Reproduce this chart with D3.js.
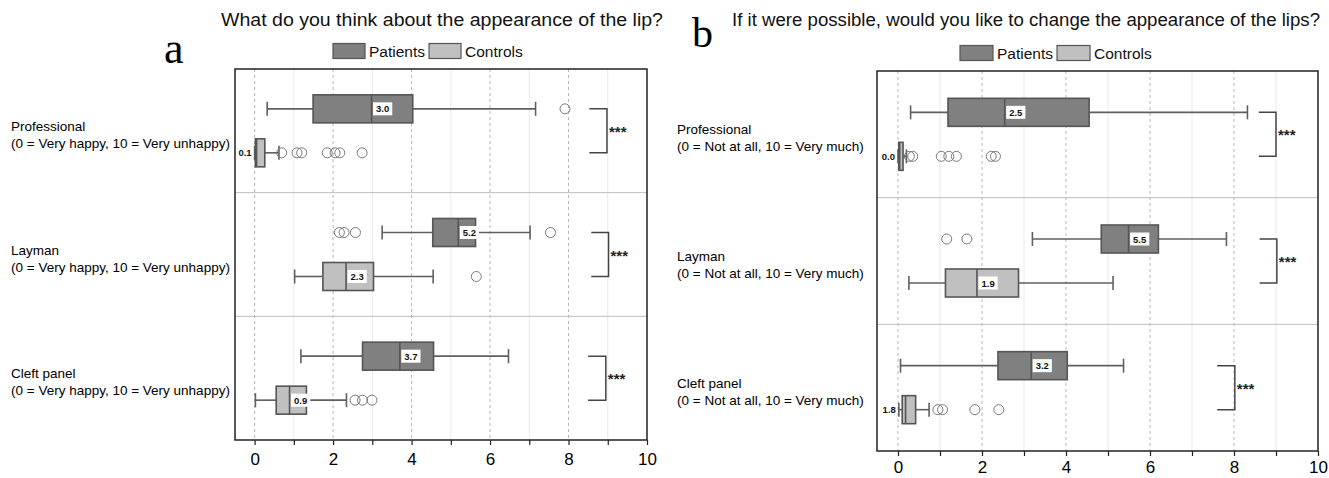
<!DOCTYPE html>
<html>
<head>
<meta charset="utf-8">
<script src="https://cdn.jsdelivr.net/npm/d3@7"></script>
<style>
  body { margin: 0; background: #fff; }
  svg { font-family: "Liberation Sans", Arial, sans-serif; }
</style>
</head>
<body>
<svg width="1329" height="478"></svg>
<script>
// shared categories / ticks
var rows = ["Professional", "Layman", "Cleft panel"];
var groups = ["Patients", "Controls"];
var xTicks = [0, 2, 4, 6, 8, 10];

// panel a -- each box is [low whisker, q1, median, q3, high whisker]
var titleA = "What do you think about the appearance of the lip?";
var noteA = "(0 = Very happy, 10 = Very unhappy)";
var patientsA = [[0.32, 1.49, 2.98, 4.03, 7.16], [3.25, 4.54, 5.19, 5.63, 7.02], [1.18, 2.75, 3.70, 4.56, 6.47]];
var controlsA = [[0, 0.02, 0.05, 0.26, 0.62], [1.02, 1.74, 2.33, 3.03, 4.55], [0.02, 0.55, 0.89, 1.32, 2.34]];
var patientsOutA = [[7.91], [2.16, 2.28, 2.57, 7.54], []];
var controlsOutA = [[0.69, 1.08, 1.2, 1.85, 2.05, 2.17, 2.74], [5.65], [2.56, 2.75, 2.99]];
var patientsLabA = ["3.0", "5.2", "3.7"];
var controlsLabA = ["0.1", "2.3", "0.9"];
var bracketA = [[8.53, 8.98], [8.58, 9.02], [8.5, 8.95]];

// panel b
var titleB = "If it were possible, would you like to change the appearance of the lips?";
var noteB = "(0 = Not at all, 10 = Very much)";
var patientsB = [[0.30, 1.19, 2.54, 4.55, 8.32], [3.20, 4.84, 5.49, 6.20, 7.82], [0.06, 2.38, 3.17, 4.03, 5.37]];
var controlsB = [[0, 0.02, 0.04, 0.12, 0.2], [0.26, 1.13, 1.88, 2.87, 5.12], [0.02, 0.1, 0.18, 0.42, 0.74]];
var patientsOutB = [[], [1.16, 1.64], []];
var controlsOutB = [[0.27, 0.35, 1.03, 1.21, 1.39, 2.22, 2.32], [], [0.95, 1.06, 1.83, 2.4]];
var patientsLabB = ["2.5", "5.5", "3.2"];
var controlsLabB = ["0.0", "1.9", "1.8"];
var bracketB = [[8.59, 9.0], [8.61, 9.02], [7.6, 8.02]];

var colors = { Patients: "#808080", Controls: "#c0c0c0" };
var svg = d3.select("svg");

function drawPanel(p) {
  var x = d3.scaleLinear().domain([-0.5, 10]).range([p.left, p.right]);
  var y = d3.scaleBand().domain(rows).range([p.top, p.bottom]);
  var g = svg.append("g");

  // minor + major grid
  g.selectAll(".minor").data(d3.range(1, 10, 2)).enter().append("line")
    .attr("x1", d => x(d)).attr("x2", d => x(d))
    .attr("y1", p.top).attr("y2", p.bottom)
    .attr("stroke", "#ebebeb").attr("stroke-width", 1);
  g.selectAll(".major").data(xTicks.slice(0, -1)).enter().append("line")
    .attr("x1", d => x(d)).attr("x2", d => x(d))
    .attr("y1", p.top).attr("y2", p.bottom)
    .attr("stroke", "#b5b5b5").attr("stroke-width", 1)
    .attr("stroke-dasharray", "3,3");

  // row separators
  g.selectAll(".sep").data(rows.slice(1)).enter().append("line")
    .attr("x1", p.left).attr("x2", p.right)
    .attr("y1", d => y(d)).attr("y2", d => y(d))
    .attr("stroke", "#bdbdbd").attr("stroke-width", 1);

  // frame
  g.append("rect")
    .attr("x", p.left).attr("y", p.top)
    .attr("width", p.right - p.left).attr("height", p.bottom - p.top)
    .attr("fill", "none").attr("stroke", "#222").attr("stroke-width", 1.5);

  // x axis
  var ax = g.append("g")
    .attr("transform", "translate(0," + p.bottom + ")")
    .call(d3.axisBottom(x).tickValues(d3.range(0, 11)).tickSize(5).tickSizeOuter(0).tickPadding(p.tickPad)
      .tickFormat(d => xTicks.indexOf(d) >= 0 ? d : ""));
  ax.select(".domain").remove();
  ax.selectAll(".tick line").attr("stroke", "#222").attr("stroke-width", 1.2);
  ax.selectAll(".tick text").attr("font-size", 17).attr("fill", "#000")
    .attr("font-family", "Liberation Sans, Arial, sans-serif");

  // y labels
  rows.forEach(function (r, i) {
    var c = y(r) + y.bandwidth() / 2;
    var t = g.append("text").attr("x", p.labelX).attr("font-size", 13.5).attr("fill", "#000");
    t.append("tspan").attr("x", p.labelX).attr("y", c + p.labelDy).text(r);
    t.append("tspan").attr("x", p.labelX).attr("y", c + p.labelDy + 17).text(p.note);
  });

  // boxes
  var sets = [
    { name: "Patients", stats: p.patients, out: p.patientsOut, lab: p.patientsLab, off: -22 },
    { name: "Controls", stats: p.controls, out: p.controlsOut, lab: p.controlsLab, off: 22 }
  ];
  sets.forEach(function (s) {
    rows.forEach(function (r, i) {
      var st = s.stats[i];
      var cy = y(r) + y.bandwidth() / 2 + s.off;
      var h = 28, cap = 14;
      var bg = g.append("g");
      bg.append("line").attr("x1", x(st[0])).attr("x2", x(st[1])).attr("y1", cy).attr("y2", cy);
      bg.append("line").attr("x1", x(st[3])).attr("x2", x(st[4])).attr("y1", cy).attr("y2", cy);
      bg.append("line").attr("x1", x(st[0])).attr("x2", x(st[0])).attr("y1", cy - cap / 2).attr("y2", cy + cap / 2);
      bg.append("line").attr("x1", x(st[4])).attr("x2", x(st[4])).attr("y1", cy - cap / 2).attr("y2", cy + cap / 2);
      bg.selectAll("line").attr("stroke", "#5f5f5f").attr("stroke-width", 1.6);
      bg.append("rect")
        .attr("x", x(st[1])).attr("y", cy - h / 2)
        .attr("width", x(st[3]) - x(st[1])).attr("height", h)
        .attr("fill", colors[s.name]).attr("stroke", "#555").attr("stroke-width", 1.6);
      bg.append("line").attr("x1", x(st[2])).attr("x2", x(st[2]))
        .attr("y1", cy - h / 2).attr("y2", cy + h / 2)
        .attr("stroke", "#555").attr("stroke-width", 1.6);

      // outliers
      bg.selectAll("circle").data(s.out[i]).enter().append("circle")
        .attr("cx", d => x(d)).attr("cy", cy).attr("r", 5)
        .attr("fill", "none").attr("stroke", "#7a7a7a").attr("stroke-width", 1);

      // median label
      var wide = x(st[3]) - x(st[1]) > 22;
      var lt = bg.append("text").attr("font-size", 9.5).attr("font-weight", "bold")
        .attr("fill", "#111").attr("y", cy + 3.5).text(s.lab[i]);
      if (wide) {
        var tw = lt.node().getComputedTextLength();
        bg.insert("rect", "text:last-of-type")
          .attr("x", x(st[2]) + 1.5).attr("y", cy - 6.5)
          .attr("width", tw + 6).attr("height", 13).attr("fill", "#fff");
        lt.attr("x", x(st[2]) + 4.5);
      } else {
        lt.attr("x", Math.min(x(st[0]), x(st[1])) - 3).attr("text-anchor", "end");
      }
    });
  });

  // significance brackets
  rows.forEach(function (r, i) {
    var c = y(r) + y.bandwidth() / 2;
    var b = p.bracket[i];
    g.append("path")
      .attr("d", "M" + x(b[0]) + "," + (c - 22) + "H" + x(b[1]) + "V" + (c + 22) + "H" + x(b[0]))
      .attr("fill", "none").attr("stroke", "#444").attr("stroke-width", 1.5);
    g.append("text").attr("x", x(b[1]) + 2).attr("y", c + 6)
      .attr("font-size", 15).attr("font-weight", "bold").attr("fill", "#222").text("***");
  });

  // title
  g.append("text").attr("x", p.titleX).attr("y", 26).attr("font-size", 17.5).attr("fill", "#111")
    .attr("textLength", p.titleW).attr("lengthAdjust", "spacingAndGlyphs").text(p.title);

  // legend
  var lx = p.legendX;
  groups.forEach(function (gr) {
    g.append("rect").attr("x", lx).attr("y", p.legendY - p.swH / 2).attr("width", p.swW).attr("height", p.swH)
      .attr("fill", colors[gr]).attr("stroke", "#555").attr("stroke-width", 1.2);
    var t = g.append("text").attr("x", lx + p.swW + 4).attr("y", p.legendY + p.legendFont * 0.36)
      .attr("font-size", p.legendFont).attr("fill", "#111").text(gr);
    lx += p.swW + 4 + t.node().getComputedTextLength() + 4;
  });

  // panel letter
  g.append("text").attr("x", p.letterX).attr("y", p.letterY)
    .attr("font-family", "Liberation Serif, Times New Roman, serif")
    .attr("font-size", p.letterSize).attr("fill", "#000").text(p.letter);
}

drawPanel({
  left: 235, right: 647, top: 69, bottom: 440, labelX: 11, labelDy: 0, tickPad: 8,
  note: noteA, title: titleA, titleX: 221, titleW: 442,
  legendX: 333, legendY: 51, swW: 32, swH: 15, legendFont: 15.5,
  letter: "a", letterX: 164, letterY: 63, letterSize: 44,
  patients: patientsA, controls: controlsA, patientsOut: patientsOutA, controlsOut: controlsOutA,
  patientsLab: patientsLabA, controlsLab: controlsLabA, bracket: bracketA
});
drawPanel({
  left: 877, right: 1318, top: 71, bottom: 451, labelX: 677, labelDy: 0, tickPad: 5,
  note: noteB, title: titleB, titleX: 732, titleW: 588,
  legendX: 960, legendY: 53, swW: 33, swH: 15, legendFont: 15.5,
  letter: "b", letterX: 692, letterY: 47, letterSize: 42,
  patients: patientsB, controls: controlsB, patientsOut: patientsOutB, controlsOut: controlsOutB,
  patientsLab: patientsLabB, controlsLab: controlsLabB, bracket: bracketB
});
</script>
</body>
</html>
